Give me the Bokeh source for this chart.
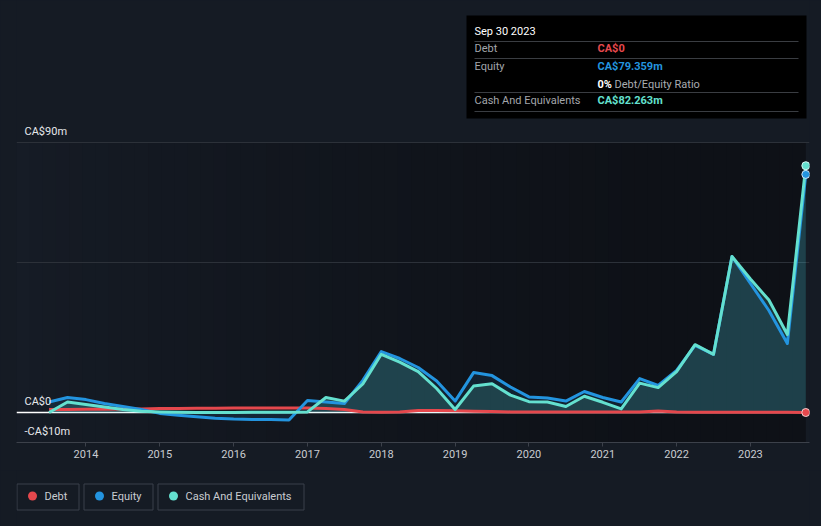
import numpy as np
from bokeh.plotting import figure
from bokeh.layouts import column
from bokeh.models import (Range1d, FixedTicker, Label, BoxAnnotation, Span, ColumnDataSource)
from bokeh.core.properties import value
from bokeh.embed import file_html
from bokeh.resources import INLINE

# ---------------- data (CA$ millions, quarter ends as decimal years) ----------------
dates = [2013.5, 2013.75, 2014.0, 2014.25, 2014.5, 2014.75, 2015.0, 2015.25, 2015.5, 2015.75,
         2016.0, 2016.25, 2016.5, 2016.75, 2017.0, 2017.25, 2017.5, 2017.75, 2018.0, 2018.25,
         2018.5, 2018.75, 2019.0, 2019.25, 2019.5, 2019.75, 2020.0, 2020.25, 2020.5, 2020.75,
         2021.0, 2021.25, 2021.5, 2021.75, 2022.0, 2022.25, 2022.5, 2022.75, 2023.0, 2023.25,
         2023.5, 2023.75]
debt = [1.0, 1.0, 1.1, 1.1, 1.2, 1.2, 1.3, 1.3, 1.4, 1.4,
        1.5, 1.5, 1.5, 1.5, 1.5, 1.3, 1.0, 0.2, 0.1, 0.2,
        0.7, 0.7, 0.6, 0.4, 0.3, 0.2, 0.2, 0.2, 0.2, 0.2,
        0.2, 0.2, 0.2, 0.5, 0.2, 0.1, 0.1, 0.1, 0.1, 0.1,
        0.1, 0.0]
equity = [3.5, 5.0, 4.3, 3.0, 2.0, 1.0, -0.3, -0.9, -1.4, -1.9,
          -2.2, -2.3, -2.3, -2.5, 4.0, 3.5, 3.0, 10.7, 20.3, 18.0,
          15.0, 10.5, 3.8, 13.3, 12.3, 8.5, 5.2, 4.8, 3.8, 7.0,
          5.0, 3.5, 11.3, 9.0, 14.0, 22.4, 19.4, 52.0, 43.0, 34.0,
          23.0, 79.359]
cash = [0.0, 3.5, 2.7, 1.8, 1.0, 0.4, 0.2, 0.1, 0.0, 0.0,
        0.0, 0.1, 0.1, 0.1, 0.2, 5.0, 3.8, 9.5, 19.4, 16.8,
        13.6, 8.0, 1.0, 8.8, 9.6, 5.8, 3.6, 3.5, 2.0, 5.4,
        3.4, 1.2, 9.8, 8.3, 13.6, 22.6, 19.4, 52.0, 44.5, 37.5,
        26.0, 82.263]

year_ticks = [2014, 2015, 2016, 2017, 2018, 2019, 2020, 2021, 2022, 2023]
y_label_values = [90, 0, -10]
y_label_texts = ["CA$90m", "CA$0", "-CA$10m"]
grid_values = [50, 90]

tip_date = "Sep 30 2023"
tip_rows = ["Debt", "Equity", "Cash And Equivalents"]
tip_values = ["CA$0", "CA$79.359m", "CA$82.263m"]
tip_ratio = ["0%", "Debt/Equity Ratio"]
legend_names = ["Debt", "Equity", "Cash And Equivalents"]

# ---------------- style ----------------
FONT = "Roboto"
BG = "#151b24"
DEBT_C = "#e5484d"
EQ_C = "#2394df"
CASH_C = "#64e0cf"
GRID_C = "#2c3139"
AXIS_C = "#3c414a"
TXT_C = "#c9ccd1"
W = 821
H_MAIN = 470
H_LEG = 526 - H_MAIN

FL, FB, FR = 16, 442, 809  # frame left / bottom / right in page pixels
PX_PER_UNIT = 3.0
y_top = 90 + (FB - 300) / PX_PER_UNIT  # frame reaches the top of the page

p = figure(width=W, height=H_MAIN, output_backend="svg", toolbar_location=None,
           x_range=Range1d(2013.059, 2023.80), y_range=Range1d(-10, y_top),
           y_axis_location=None, min_border_left=FL, min_border_right=W - FR,
           min_border_top=0, min_border_bottom=H_MAIN - FB,
           background_fill_color=BG, border_fill_color=BG, outline_line_color=None)
p.grid.visible = False

# background gradient (left: page colour -> right: dark)
n = 60
x0, x1 = p.x_range.start, dates[-1]
edges = np.linspace(x0, x1, n + 1)
cl = np.array([22, 28, 38])
cr = np.array([14, 17, 23])
lefts, rights, cols = [], [], []
step = (x1 - x0) / n
for i in range(n):
    t = ((edges[i] + edges[i + 1]) / 2 - x0) / (x1 - x0)
    t = min(1.0, t / 0.8) ** 0.75
    c = (cl + (cr - cl) * t).round().astype(int)
    cols.append("#%02x%02x%02x" % tuple(c))
    lefts.append(edges[i])
    rights.append(edges[i + 1] + (0.4 * step if i < n - 1 else 0))
p.quad(left=lefts, right=rights, bottom=-10, top=90, fill_color=cols, line_color=None, level="image")

for g in grid_values:
    p.add_layout(Span(location=g, dimension="width", line_color=GRID_C, line_width=1, level="underlay"))
p.add_layout(Span(location=0, dimension="width", line_color="#ffffff", line_width=1.5, level="underlay"))

src = ColumnDataSource(dict(date=dates, debt=debt, equity=equity, cash=cash, zero=[0.0] * len(dates)))
p.varea(x="date", y1="zero", y2="equity", source=src, fill_color=EQ_C, fill_alpha=0.12)
p.varea(x="date", y1="zero", y2="cash", source=src, fill_color=CASH_C, fill_alpha=0.17)
p.line("date", "debt", source=src, line_color=DEBT_C, line_width=3, line_join="round")
p.line("date", "equity", source=src, line_color=EQ_C, line_width=3, line_join="round")
p.line("date", "cash", source=src, line_color=CASH_C, line_width=3, line_join="round")

p.scatter([dates[-1]], [debt[-1]], size=8, fill_color=DEBT_C, line_color="#f0d0d0", line_width=1)
p.scatter([dates[-1]], [equity[-1]], size=8, fill_color=EQ_C, line_color="#cfe3f5", line_width=1)
p.scatter([dates[-1]], [cash[-1]], size=8, fill_color=CASH_C, line_color="#d6f7f2", line_width=1)

# x axis
ax = p.xaxis[0]
ax.ticker = FixedTicker(ticks=year_ticks)
ax.axis_line_color = AXIS_C
ax.major_tick_line_color = AXIS_C
ax.major_tick_out = 4
ax.major_tick_in = 0
ax.minor_tick_line_color = None
ax.major_label_standoff = 3
ax.major_label_text_color = TXT_C
ax.major_label_text_font = FONT
ax.major_label_text_font_size = "11px"

# y labels
for v, t in zip(y_label_values, y_label_texts):
    p.add_layout(Label(x=8, x_units="screen", y=v, y_units="data", y_offset=11, text=t,
                       text_font=FONT, text_font_size="11px", text_color="#e6e8eb",
                       text_baseline="middle", text_align="left"))


def box(l, r, t, b, fill):
    p.add_layout(BoxAnnotation(left=l - FL, right=r - FL, top=FB - t, bottom=FB - b,
                               left_units="screen", right_units="screen",
                               top_units="screen", bottom_units="screen",
                               fill_color=fill, fill_alpha=1, line_color=None,
                               level="annotation"))


def lab(text, px, py, color, size="11px", style="normal"):
    p.add_layout(Label(x=px - FL, y=FB - py, x_units="screen", y_units="screen", text=text,
                       text_font=FONT, text_font_size=size, text_color=color,
                       text_font_style=style, text_baseline="middle", text_align="left",
                       level="overlay"))


# tooltip panel
box(466, 806, 15, 118, "#000000")
for sy in [41, 58, 92, 111]:
    box(474, 798, sy - 0.5, sy + 0.5, "#3a3d42")
lab(tip_date, 474, 31, "#ffffff")
row_y = [48, 66, 100]
val_cols = [DEBT_C, EQ_C, CASH_C]
for name, val, yy, c in zip(tip_rows, tip_values, row_y, val_cols):
    lab(name, 474, yy, "#a3a6ab")
    lab(val, 597, yy, c, style="bold")
lab(tip_ratio[0], 597, 84, "#ffffff", style="bold")
lab(tip_ratio[1], 614, 84, "#a9acb1")

# ---------------- legend strip (x: page px, y: px above the page bottom) ----------------
q = figure(width=W, height=H_LEG, output_backend="svg", toolbar_location=None,
           x_range=Range1d(FL, FR), y_range=Range1d(0, H_LEG),
           x_axis_location=None, y_axis_location=None,
           min_border_left=FL, min_border_right=W - FR, min_border_top=0, min_border_bottom=0,
           background_fill_color=BG, border_fill_color=BG, outline_line_color=None)
q.grid.visible = False
chip_l = [16.5, 83.5, 157.5]
chip_r = [78.5, 152.5, 303.5]
chip_top, chip_bot, chip_mid = 526 - 483.5, 526 - 509.5, 526 - 495.5
q.quad(left=chip_l, right=chip_r, top=chip_top, bottom=chip_bot, fill_color=None,
       line_color="#3a404a", line_width=1)
dot_x = [l + 15.5 for l in chip_l]
txt_x = [l + 27.5 for l in chip_l]
q.scatter(x=dot_x, y=[chip_mid] * 3, size=9, fill_color=[DEBT_C, EQ_C, CASH_C], line_color=None)
q.text(x=txt_x, y=[chip_mid] * 3, text=legend_names, text_baseline="middle", text_align="left",
       text_font=value(FONT), text_font_size=value("11px"), text_color=TXT_C)

layout = column(p, q, spacing=0)
html = file_html(layout, INLINE)
html = html.replace("<head>", "<head><style>html, body { background: #151b24; }</style>", 1)
open("out.html", "w").write(html)
